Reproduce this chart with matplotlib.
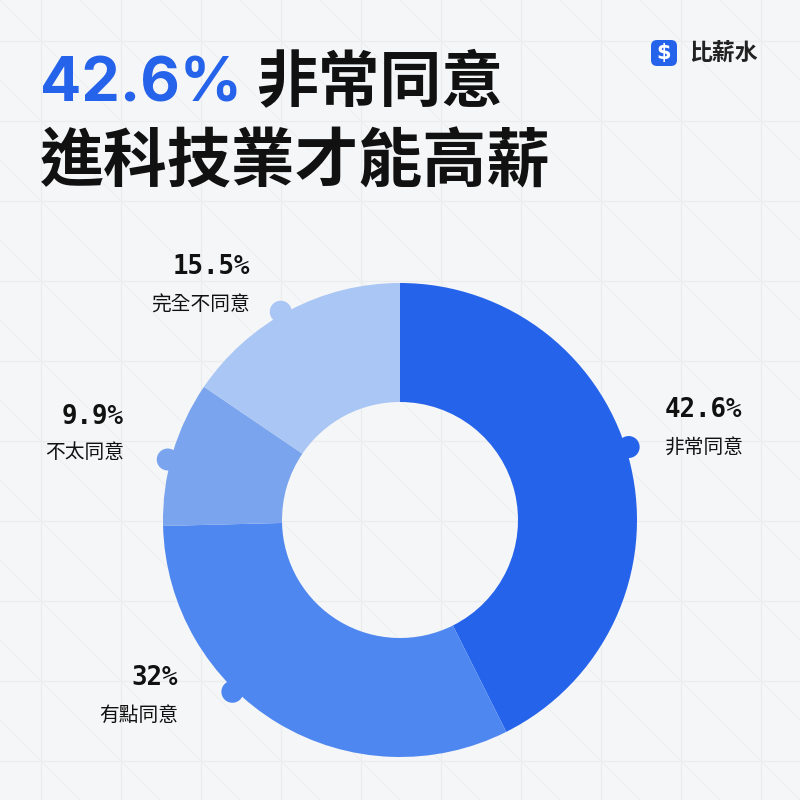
import matplotlib
matplotlib.use("Agg")
import matplotlib.pyplot as plt
from matplotlib.patches import Circle, FancyBboxPatch
import numpy as np

# ---- data ----
categories = ["非常同意", "有點同意", "不太同意", "完全不同意"]
values = [42.6, 32, 9.9, 15.5]
title_rest = "非常同意"
title_line2 = "進科技業才能高薪"
brand = "比薪水"

# ---- style ----
colors = ["#2563eb", "#4f87f0", "#7aa4ee", "#a9c6f4"]
BG = "#f5f6f7"
W = H = 800
CX, CY = 400, 520          # pixel coords (y down)
R_OUT, R_IN = 237, 118
knob_angles = [17.7, -134.3, 165.4, 119.8]   # degrees, math convention
knob_r = 11
# label anchors (pixel coords, y down): (x, y_num, y_cat, ha)
label_pos = [(665, 410, 447, "left"),
             (178, 678, 715, "right"),
             (124, 417, 453, "right"),
             (250, 267, 305, "right")]

CJK = ["Noto Sans CJK TC", "DejaVu Sans"]

fig = plt.figure(figsize=(8, 8), dpi=100, facecolor=BG)
ax = fig.add_axes([0, 0, 1, 1])
ax.set_facecolor(BG)

def Y(y):
    return H - y

# background grid
gc = "#ebeced"
for k in range(-1, 11):
    g = 41 + 80 * k
    ax.plot([g, g], [0, H], color=gc, lw=1.0, zorder=0)
    ax.plot([0, W], [Y(g), Y(g)], color=gc, lw=1.0, zorder=0)
for k in range(-12, 12):
    c = 80 * k
    xs = np.array([-100, 900])
    ax.plot(xs, H - xs - c, color="#eeeff0", lw=0.8, zorder=0)

# donut
wedges, _ = ax.pie(values, colors=colors, startangle=90, counterclock=False,
                   radius=R_OUT, center=(CX, Y(CY)),
                   wedgeprops=dict(width=R_OUT - R_IN, linewidth=0), frame=True)
for w in wedges:
    w.set_zorder(3)

# knobs
for ang, col in zip(knob_angles, colors):
    a = np.deg2rad(ang)
    kx = CX + 240 * np.cos(a)
    ky = Y(CY) + 240 * np.sin(a)
    ax.add_patch(Circle((kx, ky), knob_r, color=col, zorder=3, lw=0))

# labels
for cat, val, (lx, yn, yc, ha) in zip(categories, values, label_pos):
    ax.text(lx, Y(yn), f"{val:g}%", ha=ha, va="center", fontsize=18.5,
            family=["DejaVu Sans Mono"], fontweight="bold", color="#111111", zorder=5)
    ax.text(lx, Y(yc), cat, ha=ha, va="center", fontsize=14.2,
            family=CJK, color="#111111", zorder=5)

# title
ax.text(40, Y(102), f"{values[0]:g}%", ha="left", va="baseline", fontsize=44,
        family=["Inter", "DejaVu Sans"], fontweight="bold", color="#2563eb", zorder=5)
ax.text(256, Y(102), title_rest, ha="left", va="baseline", fontsize=44.5,
        family=CJK, fontweight="bold", color="#111111", zorder=5)
ax.text(40, Y(182), title_line2, ha="left", va="baseline", fontsize=46,
        family=CJK, fontweight="bold", color="#111111", zorder=5)

# brand logo
ax.add_patch(FancyBboxPatch((651, Y(66)), 26, 26,
                            boxstyle="round,pad=0,rounding_size=6",
                            fc="#2563eb", ec="none", zorder=5))
ax.text(664, Y(53), "$", ha="center", va="center", fontsize=15,
        family=["DejaVu Sans"], fontweight="bold", color="white", zorder=6)
ax.text(689, Y(54), brand, ha="left", va="center", fontsize=16.5,
        family=CJK, fontweight="bold", color="#222222", zorder=5)

ax.set_xlim(0, W)
ax.set_ylim(0, H)
ax.set_aspect("equal")
ax.axis("off")

fig.savefig("out.png", dpi=100, facecolor=BG)
